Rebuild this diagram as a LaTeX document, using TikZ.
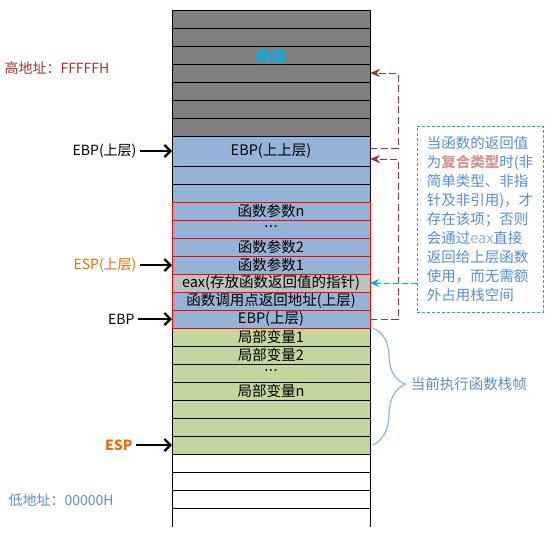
\documentclass[tikz,border=0pt]{standalone}
\usepackage{fontspec}
\setmainfont{Noto Sans CJK SC}
\setsansfont{Noto Sans CJK SC}
\newfontfamily\dotfont{DejaVu Sans}
\usetikzlibrary{arrows.meta, positioning, decorations.pathreplacing}
\definecolor{memgray}{HTML}{808080}
\definecolor{cellblue}{HTML}{95B3D7}
\definecolor{cellgreen}{HTML}{C3D69B}
\definecolor{eaxgray}{HTML}{C0C0C0}
\definecolor{addrred}{HTML}{953735}
\definecolor{esporange}{HTML}{E46C0A}
\definecolor{memcyan}{HTML}{00B0F0}
\definecolor{noteblue}{HTML}{558ED5}
\definecolor{bracecol}{HTML}{8EB4E3}
\definecolor{hlred}{HTML}{D99694}
\newcommand\cellfont{\fontsize{14.5}{17}\selectfont}
\newcommand\notefont{\fontsize{14.5}{19}\selectfont}
\newcommand\celldots{{\dotfont ···}}

\begin{document}
\begin{tikzpicture}[
    x=1pt, y=-1pt,
    cell/.style={draw=black, line width=0.8pt, outer sep=0pt, inner sep=0pt,
                 anchor=north west, minimum width=198pt, minimum height=18pt,
                 font=\cellfont},
    argcell/.style={cell, draw=red, fill=cellblue},
    reglbl/.style={font=\fontsize{14}{16}\selectfont},
    ptr/.style={-{Straight Barb[length=6pt, width=12pt]}, line width=2.2pt},
    retlink/.style={-{Stealth[length=10pt, width=8pt]}, line width=1pt,
                    draw=addrred, dash pattern=on 7pt off 3.5pt},
    eaxlink/.style={-{Stealth[length=9pt, width=8pt]}, line width=1pt,
                    draw=memcyan, dash pattern=on 6pt off 3pt},
    note/.style={draw=memcyan, line width=1pt, dash pattern=on 3pt off 2pt,
                 minimum width=126pt, minimum height=186pt, align=left,
                 text=noteblue, font=\notefont},
    brace/.style={decorate, decoration={brace, amplitude=32pt, aspect=0.48},
                  draw=bracecol, line width=1.2pt}
  ]
    \useasboundingbox (0,0) rectangle (559,535);

    % upper memory
    \foreach \i in {0,...,6}
      \node[cell, fill=memgray] (g\i) at (172,{10+18*\i}) {};
    \node[font=\fontsize{15.5}{17}\selectfont\bfseries, text=memcyan] (memlbl) at ([yshift=-2pt]g2.center) {内存};
    \node[cell, fill=cellblue, minimum height=30pt] (ebpold) at (172,136) {EBP(上上层)};
    \node[cell, fill=cellblue] (b1) at (172,166) {};
    \node[cell, fill=cellblue] (b2) at (172,184) {};

    % current frame and free space
    \node[cell, fill=cellgreen] (loc1) at (172,328) {局部变量1};
    \node[cell, fill=cellgreen] (loc2) at (172,346) {局部变量2};
    \node[cell, fill=cellgreen] (locdots) at (172,364) {\celldots};
    \node[cell, fill=cellgreen] (locn) at (172,382) {局部变量n};
    \foreach \y [count=\k] in {400,418,436}
      \node[cell, fill=cellgreen] (ge\k) at (172,\y) {};
    \foreach \y [count=\k] in {454,472,490}
      \node[cell, fill=white] (w\k) at (172,\y) {};
    \draw[line width=0.8pt] (w3.south west) -- ++(0,19) (w3.south east) -- ++(0,19);

    % arguments and return data
    \node[argcell] (argn) at (172,202) {函数参数n};
    \node[argcell] (argdots) at (172,220) {\celldots};
    \node[argcell] (arg2) at (172,238) {函数参数2};
    \node[argcell] (arg1) at (172,256) {函数参数1};
    \node[argcell, fill=eaxgray] (eax) at (172,274) {eax(存放函数返回值的指针)};
    \node[argcell] (ret) at (172,292) {函数调用点返回地址(上层)};
    \node[argcell] (ebp) at (172,310) {EBP(上层)};

    % addresses
    \node[anchor=west, reglbl, text=addrred] (hiaddr) at (1,68) {高地址：FFFFFH};
    \node[anchor=west, reglbl, text=noteblue] (loaddr) at (5,500) {低地址：00000H};

    % registers
    \node[reglbl, left=32pt of ebpold] (ebpupl) {EBP(上层)};
    \node[reglbl, text=esporange, left=32pt of arg1] (espupl) {ESP(上层)};
    \node[reglbl, left=34pt of ebp] (ebpl) {EBP};
    \node[reglbl, text=esporange, font=\fontsize{14}{16}\selectfont\bfseries, left=36pt of ge3] (espl) {ESP};
    \draw[ptr] (ebpupl) -- (ebpold);
    \draw[ptr] (espupl) -- (arg1);
    \draw[ptr] (ebpl) -- (ebp);
    \draw[ptr] (espl) -- (ge3);

    % saved frame links
    \draw[retlink] ([yshift=3pt]ebpold.east) -- ++(28,0) |- (g3.east);
    \draw[retlink] (ebp.east) -- ++(28,0) |- ([yshift=-8pt]ebpold.east);

    % note on eax
    \node[note] (note) at (480,219) {当函数的返回值\\为\textcolor{hlred}{\bfseries 复合类型}时(非\\简单类型、非指\\针及非引用)，才\\存在该项；否则\\会通过\textcolor{bracecol}{eax}直接\\返回给上层函数\\使用，而无需额\\外占用栈空间};
    \draw[eaxlink] (note.west |- eax.east) -- (eax.east);

    % frame brace
    \draw[brace] ([xshift=3pt]loc1.north east) -- ([xshift=3pt, yshift=9pt]ge3.south east)
      node[pos=0.48, right=34pt, text=noteblue, font=\fontsize{14.5}{17}\selectfont] (framelbl) {当前执行函数栈帧};
  \end{tikzpicture}
\end{document}
